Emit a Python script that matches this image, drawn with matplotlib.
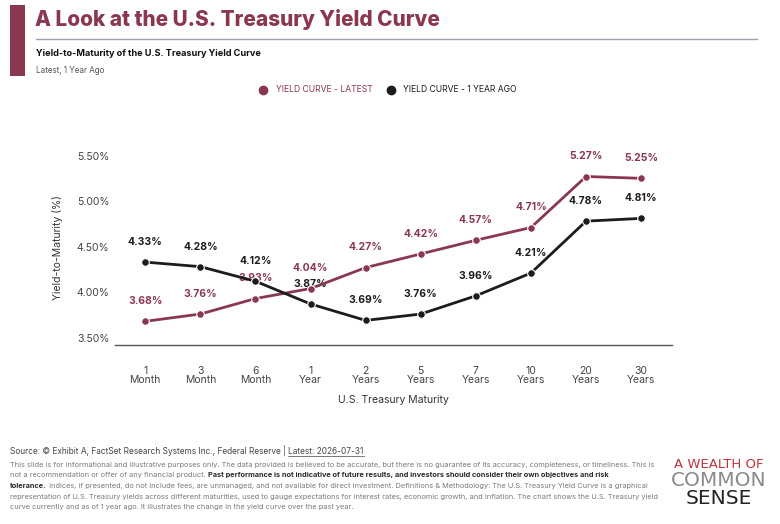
import matplotlib.pyplot as plt
from matplotlib.patches import Rectangle
from matplotlib.lines import Line2D

maturities = ["1\nMonth", "3\nMonth", "6\nMonth", "1\nYear", "2\nYears",
              "5\nYears", "7\nYears", "10\nYears", "20\nYears", "30\nYears"]
latest = [3.68, 3.76, 3.93, 4.04, 4.27, 4.42, 4.57, 4.71, 5.27, 5.25]
year_ago = [4.33, 4.28, 4.12, 3.87, 3.69, 3.76, 3.96, 4.21, 4.78, 4.81]
y_ticks = [3.5, 4.0, 4.5, 5.0, 5.5]

MAROON = "#8a3850"
BLACK = "#1c1c1c"
GRAY = "#555555"
FONT = ["Inter", "DejaVu Sans"]

plt.rcParams["font.family"] = FONT

fig = plt.figure(figsize=(7.8, 5.24), dpi=100)
W, H = 780, 524


def fx(px):
    return px / W


def fy(py):
    return 1 - py / H


# header
fig.add_artist(Rectangle((fx(10), fy(76)), fx(15), (76 - 5) / H,
                         transform=fig.transFigure, color=MAROON, lw=0))
fig.text(fx(35), fy(20), "A Look at the U.S. Treasury Yield Curve", fontsize=15,
         fontweight="heavy", color=MAROON, va="center", ha="left")
fig.add_artist(Line2D([fx(36), fx(757)], [fy(39), fy(39)], transform=fig.transFigure,
                      color="#9aa3ad", lw=1))
fig.text(fx(36), fy(54), "Yield-to-Maturity of the U.S. Treasury Yield Curve", fontsize=6.6,
         fontweight="bold", color="#111111", va="center")
fig.text(fx(36), fy(70), "Latest, 1 Year Ago", fontsize=5.8, color=GRAY, va="center")

# legend
fig.add_artist(Line2D([fx(263)], [fy(90)], transform=fig.transFigure, marker="o",
                      markersize=6, color=MAROON, lw=0))
fig.text(fx(276), fy(90), "YIELD CURVE - LATEST", fontsize=6.2, color=MAROON, va="center")
fig.add_artist(Line2D([fx(391)], [fy(90)], transform=fig.transFigure, marker="o",
                      markersize=6, color=BLACK, lw=0))
fig.text(fx(403), fy(90), "YIELD CURVE - 1 YEAR AGO", fontsize=6.2, color=BLACK, va="center")

# chart
ax = fig.add_axes([fx(115), fy(345), fx(672) - fx(115), (345 - 151) / H])
x = range(len(maturities))
for vals, col in [(latest, MAROON), (year_ago, BLACK)]:
    ax.plot(x, vals, color=col, lw=2, marker="o", markersize=5.5,
            markeredgecolor="white", markeredgewidth=0.8, zorder=3)
    for xi, v in zip(x, vals):
        ax.annotate(f"{v:.2f}%", (xi, v), xytext=(0, 14.5), textcoords="offset points",
                    ha="center", va="center", fontsize=7.5, fontweight="bold",
                    color=col, zorder=2)

ax.set_xlim(-0.55, 9.56)
ax.set_ylim(3.42, 5.55)
ax.set_yticks(y_ticks)
ax.set_yticklabels([f"{t:.2f}%" for t in y_ticks])
ax.set_xticks(list(x))
ax.set_xticklabels(maturities, linespacing=0.95)
ax.tick_params(axis="both", length=0, labelsize=7.5, colors="#444444")
ax.tick_params(axis="x", pad=15)
ax.tick_params(axis="y", pad=4)
for s in ["top", "right", "left"]:
    ax.spines[s].set_visible(False)
ax.spines["bottom"].set_color("#555555")
ax.spines["bottom"].set_linewidth(1)
ax.set_xlabel("U.S. Treasury Maturity", fontsize=7.5, color="#333333", labelpad=7)
ax.set_ylabel("Yield-to-Maturity (%)", fontsize=7.5, color="#333333", labelpad=10)

# footer
fig.canvas.draw()
renderer = fig.canvas.get_renderer()


def rich_line(px, py, parts, size=5.3):
    xpos = fx(px)
    for text, bold in parts:
        t = fig.text(xpos, fy(py), text, fontsize=size, va="center", ha="left",
                     color="#2a2a2a" if bold else "#7a7a7a",
                     fontweight="bold" if bold else "normal")
        bb = t.get_window_extent(renderer=renderer)
        xpos = bb.x1 / W


src = fig.text(fx(10), fy(451), "Source: \u00a9 Exhibit A, FactSet Research Systems Inc., Federal Reserve | ",
               fontsize=6.0, va="center", color="#444444")
bb = src.get_window_extent(renderer=renderer)
lt = fig.text(bb.x1 / W, fy(451), "Latest: 2026-07-31", fontsize=6.0, va="center", color="#444444")
lb = lt.get_window_extent(renderer=renderer)
fig.add_artist(Line2D([lb.x0 / W, lb.x1 / W], [lb.y0 / H, lb.y0 / H], transform=fig.transFigure,
                      color="#444444", lw=0.5))

lines = [
    [("This slide is for informational and illustrative purposes only. The data provided is believed to be accurate, "
      "but there is no guarantee of its accuracy, completeness, or timeliness. This is", False)],
    [("not a recommendation or offer of any financial product. ", False),
     ("Past performance is not indicative of future results, and investors should consider their own objectives and risk", True)],
    [("tolerance.", True),
     (" Indices, if presented, do not include fees, are unmanaged, and not available for direct investment. "
      "Definitions & Methodology: The U.S. Treasury Yield Curve is a graphical", False)],
    [("representation of U.S. Treasury yields across different maturities, used to gauge expectations for interest rates, "
      "economic growth, and inflation. The chart shows the U.S. Treasury yield", False)],
    [("curve currently and as of 1 year ago. It illustrates the change in the yield curve over the past year.", False)],
]
for i, parts in enumerate(lines):
    rich_line(10, 465 + i * 10.5, parts)

# logo
LOGO = ["Liberation Sans Narrow", "DejaVu Sans"]
fig.text(fx(719), fy(464), "A WEALTH OF", fontsize=9.5, color="#c0343f", ha="center", va="center",
         family=LOGO)
fig.text(fx(719), fy(480), "COMMON", fontsize=14.5, color="#8a8a8a", ha="center", va="center",
         family=LOGO)
fig.text(fx(719), fy(499), "SENSE", fontsize=14.5, color="#222222", ha="center", va="center",
         family=LOGO)

fig.savefig("out.png", dpi=100)
